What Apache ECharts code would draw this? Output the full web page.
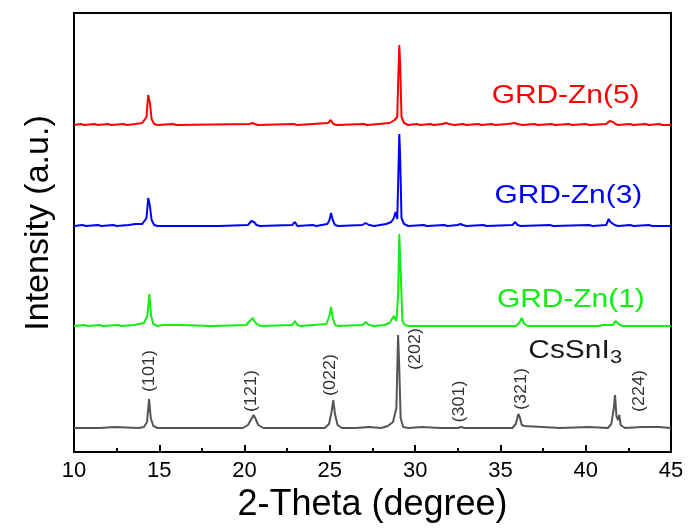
<!DOCTYPE html>
<html>
<head>
<meta charset="utf-8">
<script src="https://cdn.jsdelivr.net/npm/echarts@6/dist/echarts.min.js"></script>
<style>
html,body{margin:0;padding:0;background:#fff;}
#c{width:689px;height:529px;}
</style>
</head>
<body>
<div id="c"></div>
<script>
// ---- data (2-Theta in degrees, intensity in arbitrary units above each pattern's baseline) ----
const xMin = 10, xMax = 45, xStep = 5;
const yMin = 0, yMax = 439;

const seriesNames = ['CsSnI3', 'GRD-Zn(1)', 'GRD-Zn(3)', 'GRD-Zn(5)'];
const seriesOffsets = [24, 126, 226, 327];
const seriesColors = ['#555555', '#11ee11', '#0000ff', '#ff0000'];

const patternCsSnI3 = [
  [10,0],[11.5,0],[12.4,1],[12.5,0],[13.8,0],[14.1,1],[14.28,6],[14.4,29],[14.5,10],[14.65,2],[14.9,0],
  [16.5,0],[19.9,0],[20.2,3],[20.4,9],[20.53,13],[20.65,9],[20.8,3],[21.1,0],
  [22.9,0],[23.0,2],[23.1,0],[24.7,0],[24.95,4],[25.1,16],[25.2,28],[25.3,14],[25.45,3],[25.7,0],
  [26.5,0],[27.3,1],[27.4,0],[28.0,0],[28.4,2],[28.7,6],[28.9,20],[29.0,93],[29.07,60],[29.15,10],[29.3,1],[29.6,0],
  [30.4,1],[30.5,0],[31.5,0],[32.5,0],[32.6,2],[32.7,1],[32.8,2],[32.9,0],
  [35.7,0],[35.9,4],[36.05,14],[36.15,10],[36.25,3],[36.4,2],[36.5,0],
  [38.5,0],[40.2,1],[40.3,0],[41.3,0],[41.5,4],[41.65,20],[41.72,33],[41.8,12],[41.9,8],[41.97,13],[42.05,3],[42.3,0],
  [43.3,1],[43.4,0],[44.3,1],[44.4,0],[45,0]
];
const patternZn1 = [
  [10,0],[10.6,1],[10.8,0],[11.5,1],[11.7,0],[12.6,1],[12.8,0],[13.5,1],[13.8,2],[14.1,3],[14.3,10],[14.42,32],[14.52,10],[14.65,2],[14.9,0],
  [15.2,1],[15.3,0],[16.3,1],[16.4,0],[18.0,0],[18.1,1],[18.2,0],[20.1,1],[20.3,5],[20.48,8],[20.6,4],[20.8,1],[21.0,0],
  [22.8,1],[22.95,5],[23.1,1],[23.3,0],[24.0,1],[24.1,0],[24.8,2],[24.97,10],[25.07,19],[25.17,8],[25.3,1],[25.5,0],
  [26.9,1],[27.1,4],[27.3,1],[27.6,0],[28.2,1],[28.5,3],[28.75,10],[28.9,5],[29.0,30],[29.07,92],[29.15,55],[29.25,5],[29.4,1],[29.6,0],
  [33,0],[35.9,0],[36.1,3],[36.25,8],[36.4,2],[36.6,0],[40.8,0],[41.0,1],[41.1,0],[41.6,1],[41.75,5],[41.85,6],[42.0,1],[42.2,0],[45,0]
];
const patternZn3 = [
  [10,0],[10.5,1],[10.7,0],[11.4,1],[11.6,0],[12.3,1],[12.5,0],[13.2,1],[13.6,2],[14.0,2],[14.25,8],[14.35,28],[14.45,20],[14.55,6],[14.7,1],[14.9,0],
  [16.0,0],[18.5,0],[20.2,1],[20.4,5],[20.55,4],[20.7,1],[20.9,0],[22.8,1],[22.95,4],[23.1,0],[24.0,1],[24.2,0],
  [24.85,2],[24.98,6],[25.07,13],[25.17,6],[25.3,1],[25.5,0],[26.9,1],[27.1,3],[27.3,1],[27.6,0],[28.3,2],[28.6,4],[28.75,8],[28.85,14],[28.95,7],
  [29.0,40],[29.07,92],[29.12,70],[29.2,8],[29.35,2],[29.6,0],[30.5,1],[30.7,0],[31.7,1],[31.9,0],[32.5,1],[32.65,2],[32.8,1],[33,0],
  [34.0,1],[34.2,0],[35.7,1],[35.88,4],[36.0,1],[36.2,0],[37.9,1],[38.1,0],[40.2,1],[40.4,0],[41.2,1],[41.35,7],[41.45,4],[41.55,5],[41.7,1],[41.9,0],
  [42.6,1],[42.8,0],[43.7,1],[43.9,0],[45,0]
];
const patternZn5 = [
  [10,0],[10.4,1],[10.6,0],[11.2,1],[11.4,0],[12.0,1],[12.2,0],[12.9,1],[13.1,0],[13.6,1],[14.0,2],[14.25,8],[14.35,30],[14.45,22],[14.55,6],[14.7,1],[14.9,0],
  [15.8,1],[16.0,0],[20.3,1],[20.46,2],[20.6,1],[20.8,0],[22.85,1],[22.95,2],[23.1,0],[24.9,2],[25.05,5],[25.2,1],[25.4,0],
  [27.0,1],[27.1,2],[27.2,0],[28.5,2],[28.8,5],[28.95,8],[29.0,40],[29.07,80],[29.12,62],[29.2,8],[29.35,2],[29.6,0],
  [30.1,1],[30.3,0],[30.9,1],[31.1,0],[31.6,1],[31.8,2],[32.0,1],[32.3,0],[32.8,1],[33.0,0],[33.7,1],[33.9,0],[34.5,1],[34.7,0],
  [35.4,1],[35.85,2],[36.0,1],[36.3,0],[37.0,1],[37.2,0],[38.0,1],[38.2,0],[39.0,1],[39.2,0],[40.0,1],[40.2,0],
  [41.2,1],[41.4,4],[41.5,2],[41.6,3],[41.75,1],[41.9,0],[42.6,1],[42.8,0],[43.5,1],[43.7,0],[44.3,1],[44.5,0],[45,0]
];
const patterns = [patternCsSnI3, patternZn1, patternZn3, patternZn5];

// sample labels (center, in data coordinates)
const sampleLabelX = [39.02, 39.13, 38.98, 38.82];
const sampleLabelY = [101.5, 152.5, 256, 356];
const sampleLabelText = ['CsSnI', 'GRD-Zn(1)', 'GRD-Zn(3)', 'GRD-Zn(5)'];
const sampleLabelColors = ['#1a1a1a', '#11ee11', '#0000ff', '#ff0000'];
const subscriptX = 41.78, subscriptY = 94.5, subscriptText = '3';

// Miller index labels (center, in data coordinates)
const millerText = ['(101)', '(121)', '(022)', '(202)', '(301)', '(321)', '(224)'];
const millerX = [14.46, 20.42, 25.05, 30.05, 32.63, 36.27, 43.18];
const millerY = [81, 61, 77, 103, 50.5, 63, 61];

// ---- chart ----
const FONT = '"Liberation Sans", Arial, Helvetica, sans-serif';
const chart = echarts.init(document.getElementById('c'), null, {renderer: 'canvas'});

const series = patterns.map((p, i) => ({
  name: seriesNames[i],
  type: 'line',
  data: p.map(d => [d[0], d[1] + seriesOffsets[i]]),
  showSymbol: false,
  symbol: 'none',
  lineStyle: {color: seriesColors[i], width: 2},
  itemStyle: {color: seriesColors[i]},
  z: 3 + i,
  silent: true
}));

const option = {
  animation: false,
  backgroundColor: '#ffffff',
  grid: {left: 74, right: 18, top: 13, bottom: 77, show: true, borderColor: '#000', borderWidth: 2, backgroundColor: 'transparent', containLabel: false},
  xAxis: {
    type: 'value', min: xMin, max: xMax, interval: xStep,
    name: '2-Theta (degree)', nameLocation: 'middle', nameGap: 29,
    nameTextStyle: {fontFamily: FONT, fontSize: 36, color: '#000'},
    axisLine: {show: true, lineStyle: {color: '#000', width: 2}},
    axisTick: {show: true, inside: true, length: 7, lineStyle: {color: '#000', width: 2}},
    minorTick: {show: true, splitNumber: 2, length: 4, lineStyle: {color: '#000', width: 2}},
    axisLabel: {fontFamily: FONT, fontSize: 22, color: '#000', margin: 8},
    splitLine: {show: false}, minorSplitLine: {show: false}
  },
  yAxis: {
    type: 'value', min: yMin, max: yMax,
    name: 'Intensity (a.u.)', nameLocation: 'middle', nameGap: 18,
    nameTextStyle: {fontFamily: FONT, fontSize: 34, color: '#000', padding: [0, 0, 0, 19]},
    axisLine: {show: true, lineStyle: {color: '#000', width: 2}},
    axisTick: {show: false}, axisLabel: {show: false}, splitLine: {show: false}
  },
  series: series
};
chart.setOption(option);

const graphics = [];
sampleLabelText.forEach((t, i) => {
  const p = chart.convertToPixel({gridIndex: 0}, [sampleLabelX[i], sampleLabelY[i]]);
  graphics.push({
    type: 'text', x: p[0], y: p[1], scaleX: 1.15, z: 20,
    style: {text: t, x: 0, y: 0, fill: sampleLabelColors[i], fontFamily: FONT, fontSize: 26,
      align: 'center', verticalAlign: 'middle', textAlign: 'center', textVerticalAlign: 'middle'}
  });
});
{
  const p = chart.convertToPixel({gridIndex: 0}, [subscriptX, subscriptY]);
  graphics.push({
    type: 'text', x: p[0], y: p[1], scaleX: 1.15, z: 20,
    style: {text: subscriptText, x: 0, y: 0, fill: '#1a1a1a', fontFamily: FONT, fontSize: 19,
      align: 'center', verticalAlign: 'middle', textAlign: 'center', textVerticalAlign: 'middle'}
  });
}
millerText.forEach((t, i) => {
  const p = chart.convertToPixel({gridIndex: 0}, [millerX[i], millerY[i]]);
  graphics.push({
    type: 'text', x: p[0], y: p[1], rotation: Math.PI / 2, scaleX: 1.12, z: 20,
    style: {text: t, x: 0, y: 0, fill: '#333333', fontFamily: FONT, fontSize: 16,
      align: 'center', verticalAlign: 'middle', textAlign: 'center', textVerticalAlign: 'middle'}
  });
});
chart.setOption({graphic: graphics});
</script>
</body>
</html>
